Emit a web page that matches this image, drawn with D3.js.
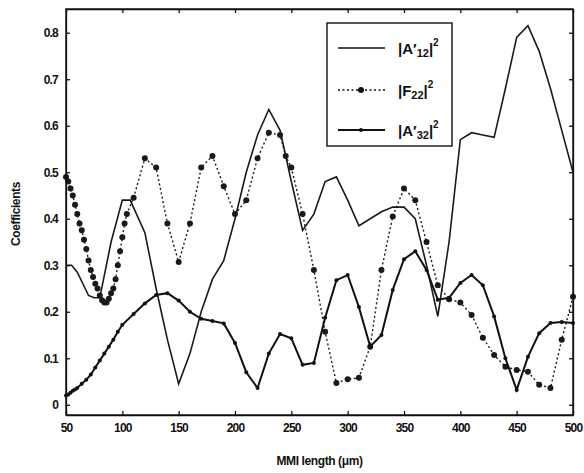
<!DOCTYPE html>
<html>
<head>
<meta charset="utf-8">
<script src="https://cdnjs.cloudflare.com/ajax/libs/d3/7.8.5/d3.min.js"></script>
<style>
  body { margin: 0; background: #fff; }
  .axis text { font-family: "Liberation Sans", Arial, sans-serif; font-size: 12px; font-weight: bold; fill: #111; letter-spacing: -0.8px; }
  .axis path, .axis line { stroke: #111; stroke-width: 1.3; }
  .label { font-family: "Liberation Sans", Arial, sans-serif; font-size: 12px; font-weight: bold; fill: #111; letter-spacing: -0.4px; }
  .legend text { font-family: "Liberation Sans", Arial, sans-serif; font-size: 15px; font-weight: bold; fill: #111; }
</style>
</head>
<body>
<svg id="chart"></svg>
<script>
const w = 584, h = 473;
const margins = { top: 9, right: 11, bottom: 58, left: 66 };

// x ticks and y ticks
const xTicks = [50, 100, 150, 200, 250, 300, 350, 400, 450, 500];
const yTicks = [0, 0.1, 0.2, 0.3, 0.4, 0.5, 0.6, 0.7, 0.8];

// |A12|^2 - solid line, no markers
const a12X = [50, 55, 60, 70, 75, 80, 90, 100, 107, 120, 130, 140, 150, 160, 170, 180, 190, 200, 210, 220, 230, 240, 250, 260, 270, 280, 290, 300, 310, 320, 330, 340, 350, 360, 370, 380, 390, 400, 410, 420, 430, 440, 450, 460, 470, 480, 490, 500];
const a12Y = [0.30, 0.30, 0.285, 0.235, 0.23, 0.23, 0.35, 0.44, 0.44, 0.37, 0.25, 0.14, 0.045, 0.11, 0.20, 0.27, 0.31, 0.40, 0.50, 0.58, 0.635, 0.59, 0.48, 0.375, 0.41, 0.48, 0.49, 0.44, 0.385, 0.40, 0.415, 0.425, 0.425, 0.40, 0.30, 0.19, 0.35, 0.57, 0.585, 0.58, 0.575, 0.68, 0.79, 0.815, 0.76, 0.68, 0.59, 0.50];

// |F22|^2 - dotted line with round markers
const f22X = [50, 52, 54, 56, 58, 60, 62, 64, 66, 68, 70, 72, 74, 76, 78, 80, 82, 84, 86, 88, 90, 92, 94, 96, 98, 100, 102, 104, 110, 120, 130, 140, 150, 160, 170, 180, 190, 200, 210, 220, 230, 240, 245, 250, 260, 270, 280, 290, 300, 310, 320, 330, 340, 350, 360, 370, 380, 390, 400, 410, 420, 430, 440, 450, 460, 470, 480, 490, 500];
const f22Y = [0.49, 0.48, 0.465, 0.45, 0.43, 0.41, 0.39, 0.375, 0.355, 0.335, 0.31, 0.29, 0.275, 0.26, 0.25, 0.235, 0.225, 0.22, 0.22, 0.228, 0.24, 0.25, 0.27, 0.30, 0.33, 0.36, 0.39, 0.41, 0.445, 0.53, 0.51, 0.39, 0.307, 0.39, 0.51, 0.535, 0.47, 0.41, 0.44, 0.53, 0.585, 0.58, 0.535, 0.51, 0.41, 0.29, 0.157, 0.047, 0.055, 0.058, 0.125, 0.29, 0.405, 0.465, 0.44, 0.35, 0.257, 0.227, 0.22, 0.193, 0.144, 0.107, 0.082, 0.075, 0.071, 0.043, 0.036, 0.14, 0.232];

// |A32|^2 - solid line with small dots
const a32X = [50, 52, 54, 56, 58, 60, 64, 68, 72, 76, 80, 84, 88, 92, 96, 100, 110, 120, 130, 140, 150, 160, 170, 180, 190, 200, 210, 220, 230, 240, 250, 260, 270, 280, 290, 300, 310, 320, 330, 340, 350, 360, 370, 380, 390, 400, 410, 420, 430, 440, 450, 460, 470, 480, 490, 500];
const a32Y = [0.02, 0.022, 0.026, 0.03, 0.033, 0.036, 0.045, 0.054, 0.065, 0.08, 0.095, 0.11, 0.125, 0.14, 0.157, 0.172, 0.195, 0.218, 0.236, 0.24, 0.224, 0.20, 0.185, 0.18, 0.175, 0.133, 0.07, 0.036, 0.11, 0.152, 0.143, 0.086, 0.09, 0.187, 0.268, 0.279, 0.21, 0.125, 0.15, 0.247, 0.313, 0.33, 0.29, 0.226, 0.23, 0.262, 0.279, 0.257, 0.19, 0.10, 0.032, 0.103, 0.154, 0.176, 0.178, 0.176];

let chart, xScale, yScale;

function setupChart() {
  chart = d3.select('#chart')
    .attr('width', w)
    .attr('height', h);

  xScale = d3.scaleLinear()
    .domain([50, 500])
    .range([margins.left, w - margins.right]);

  yScale = d3.scaleLinear()
    .domain([-0.022, 0.851])
    .range([h - margins.bottom, margins.top]);
}

function makeChart() {
  const line = d3.line()
    .x(d => xScale(d[0]))
    .y(d => yScale(d[1]));

  const a12 = a12X.map((x, i) => [x, a12Y[i]]);
  const f22 = f22X.map((x, i) => [x, f22Y[i]]);
  const a32 = a32X.map((x, i) => [x, a32Y[i]]);

  chart.append('path')
    .attr('d', line(a12))
    .attr('fill', 'none')
    .attr('stroke', '#1a1a1a')
    .attr('stroke-width', 1.6);

  chart.append('path')
    .attr('d', line(f22))
    .attr('fill', 'none')
    .attr('stroke', '#1a1a1a')
    .attr('stroke-width', 1.4)
    .attr('stroke-dasharray', '2,2.5');

  chart.append('g').selectAll('circle')
    .data(f22)
    .join('circle')
    .attr('cx', d => xScale(d[0]))
    .attr('cy', d => yScale(d[1]))
    .attr('r', 3)
    .attr('fill', '#1a1a1a');

  chart.append('path')
    .attr('d', line(a32))
    .attr('fill', 'none')
    .attr('stroke', '#111')
    .attr('stroke-width', 2);

  chart.append('g').selectAll('circle')
    .data(a32)
    .join('circle')
    .attr('cx', d => xScale(d[0]))
    .attr('cy', d => yScale(d[1]))
    .attr('r', 2)
    .attr('fill', '#111');

  // axes with inward ticks on all four sides
  const bottom = h - margins.bottom;
  const right = w - margins.right;

  chart.append('g')
    .attr('class', 'axis')
    .attr('transform', `translate(0, ${bottom})`)
    .call(d3.axisBottom(xScale).tickValues(xTicks).tickSizeInner(-4).tickSizeOuter(0).tickPadding(8).tickFormat(d3.format('d')));

  chart.append('g')
    .attr('class', 'axis')
    .attr('transform', `translate(${margins.left}, 0)`)
    .call(d3.axisLeft(yScale).tickValues(yTicks).tickSizeInner(-4).tickSizeOuter(0).tickPadding(8).tickFormat(d => d === 0 ? '0' : d3.format('.1f')(d)));

  chart.append('g')
    .attr('class', 'axis')
    .attr('transform', `translate(0, ${margins.top})`)
    .call(d3.axisTop(xScale).tickValues(xTicks).tickSizeInner(-4).tickSizeOuter(0).tickFormat(''));

  chart.append('g')
    .attr('class', 'axis')
    .attr('transform', `translate(${right}, 0)`)
    .call(d3.axisRight(yScale).tickValues(yTicks).tickSizeInner(-4).tickSizeOuter(0).tickFormat(''));

  // frame
  chart.append('rect')
    .attr('x', margins.left)
    .attr('y', margins.top)
    .attr('width', right - margins.left)
    .attr('height', bottom - margins.top)
    .attr('fill', 'none')
    .attr('stroke', '#111')
    .attr('stroke-width', 1.4);

  // axis labels
  chart.append('text')
    .attr('class', 'label')
    .attr('transform', `translate(${(margins.left + right) / 2}, ${h - 8})`)
    .attr('text-anchor', 'middle')
    .text('MMI length (\u03bcm)');

  chart.append('text')
    .attr('class', 'label')
    .attr('transform', `translate(20, ${(margins.top + bottom) / 2 + 2}) rotate(-90)`)
    .attr('text-anchor', 'middle')
    .text('Coefficients');

  // legend
  const legend = chart.append('g').attr('class', 'legend');
  legend.append('rect')
    .attr('x', 327).attr('y', 23)
    .attr('width', 125).attr('height', 123)
    .attr('fill', '#fff')
    .attr('stroke', '#111')
    .attr('stroke-width', 1.4);

  const entries = [
    { sub: '12', letter: 'A\u2032', ypos: 48, dash: null, r: 0 },
    { sub: '22', letter: 'F', ypos: 90, dash: '2,2.5', r: 3 },
    { sub: '32', letter: 'A\u2032', ypos: 130, dash: null, r: 2 }
  ];
  entries.forEach(e => {
    legend.append('line')
      .attr('x1', 338).attr('x2', 385)
      .attr('y1', e.ypos).attr('y2', e.ypos)
      .attr('stroke', '#111')
      .attr('stroke-width', e.r === 2 ? 2 : 1.5)
      .attr('stroke-dasharray', e.dash);
    if (e.r > 0) {
      legend.append('circle')
        .attr('cx', 361).attr('cy', e.ypos)
        .attr('r', e.r).attr('fill', '#111');
    }
    const t = legend.append('text')
      .attr('x', 398).attr('y', e.ypos + 6);
    t.append('tspan').text('|' + e.letter);
    t.append('tspan').attr('font-size', 11).attr('dy', 3).text(e.sub);
    t.append('tspan').attr('dy', -3).text('|');
    t.append('tspan').attr('font-size', 10).attr('dy', -8).text('2');
  });
}

setupChart();
makeChart();
</script>
</body>
</html>
